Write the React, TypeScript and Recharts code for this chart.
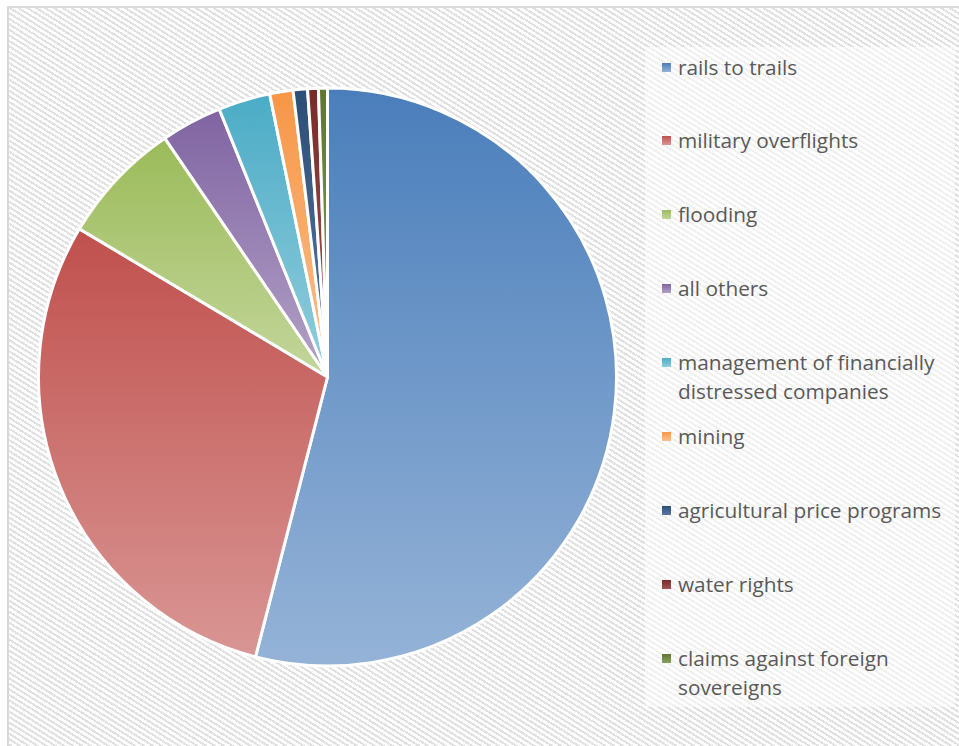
import React from 'react';
import { PieChart, Pie, Cell, Legend } from 'recharts';

// lawsuit categories, clockwise from 12 o'clock
const categories = [
  'rails to trails',
  'military overflights',
  'flooding',
  'all others',
  'management of financially distressed companies',
  'mining',
  'agricultural price programs',
  'water rights',
  'claims against foreign sovereigns',
];

// share of the pie (percent)
const shares = [53.9, 29.5, 6.9, 3.4, 2.9, 1.3, 0.8, 0.6, 0.5];

// Office-style gradient: darker at top of each slice, lighter at bottom
const gradTop = ['#4a7ebb', '#c0504d', '#9bbb59', '#8064a2', '#4bacc6', '#f79646', '#2c4d75', '#772c2a', '#5f7530'];
const gradBottom = ['#95b3d7', '#d99694', '#c3d69b', '#b3a2c7', '#93cddd', '#fac090', '#5a7aa6', '#a35553', '#8aa35a'];

const data = categories.map((name, i) => ({ name, value: shares[i] }));

const LegendList = () => (
  <div style={{ fontFamily: '"Open Sans", sans-serif', fontSize: 20.8, color: '#595959' }}>
    {categories.map((name, i) => (
      <div
        key={name}
        style={{ position: 'relative', height: 73.9, paddingLeft: 33, lineHeight: '29px', width: 272 }}
      >
        <span
          style={{
            position: 'absolute',
            left: 17,
            top: 10,
            width: 9,
            height: 9,
            background: `linear-gradient(${gradTop[i]}, ${gradBottom[i]})`,
          }}
        />
        {name}
      </div>
    ))}
  </div>
);

export default function App() {
  return (
    <div
      style={{
        position: 'fixed',
        left: 0,
        top: 0,
        width: 959,
        height: 746,
        overflow: 'hidden',
        background: '#fff',
      }}
    >
      {/* hatched chart area with a thin frame */}
      <div
        style={{
          position: 'absolute',
          left: 7,
          top: 6,
          width: 970,
          height: 760,
          border: '2px solid #d9d9d9',
          background: 'repeating-linear-gradient(32deg, #e0e0e0 0px, #e0e0e0 2px, #ffffff 2px, #ffffff 4.7px)',
        }}
      />
      {/* legend panel, lighter hatch */}
      <div
        style={{
          position: 'absolute',
          left: 645,
          top: 47,
          width: 310,
          height: 660,
          background: 'rgba(255,255,255,0.5)',
        }}
      />
      <svg width={0} height={0} style={{ position: 'absolute' }}>
        <defs>
          {categories.map((name, i) => (
            <linearGradient key={name} id={`slice-${i}`} x1="0" y1="0" x2="0" y2="1">
              <stop offset="0%" stopColor={gradTop[i]} />
              <stop offset="100%" stopColor={gradBottom[i]} />
            </linearGradient>
          ))}
        </defs>
      </svg>
      <PieChart width={959} height={746} margin={{ top: 0, right: 0, bottom: 0, left: 0 }}>
        <Pie
          data={data}
          dataKey="value"
          nameKey="name"
          cx={327.5}
          cy={377}
          outerRadius={289}
          startAngle={90}
          endAngle={-270}
          stroke="#ffffff"
          strokeWidth={3}
          label={false}
          labelLine={false}
          isAnimationActive={false}
        >
          {data.map((d, i) => (
            <Cell key={d.name} fill={`url(#slice-${i})`} />
          ))}
        </Pie>
        <Legend
          layout="vertical"
          align="right"
          verticalAlign="top"
          content={() => <LegendList />}
          wrapperStyle={{ left: 645, top: 52.5, width: 310 }}
        />
      </PieChart>
    </div>
  );
}
